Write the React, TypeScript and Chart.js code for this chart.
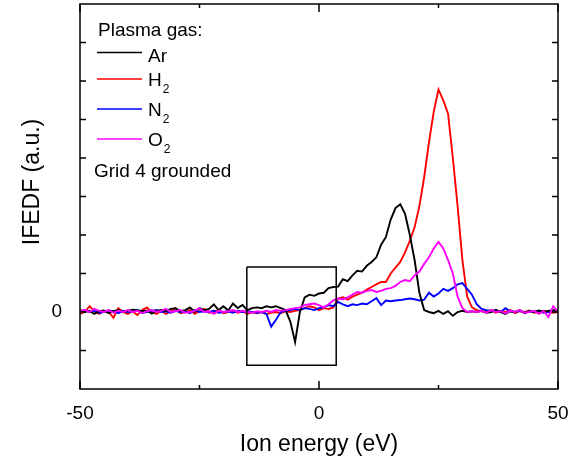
import React, { useEffect, useRef } from 'react';
import { Chart, registerables } from 'chart.js';

Chart.register(...registerables);

const FONT = '"Liberation Sans", Arial, Helvetica, sans-serif';

// Ion energy (eV)
const energy = [
  -50, -49, -48, -47, -46, -45, -44, -43, -42, -41,
  -40, -39, -38, -37, -36, -35, -34, -33, -32, -31,
  -30, -29, -28, -27, -26, -25, -24, -23, -22, -21,
  -20, -19, -18, -17, -16, -15, -14, -13, -12, -11,
  -10, -9, -8, -7, -6, -5, -4, -3, -2, -1,
  0, 1, 2, 3, 4, 5, 6, 7, 8, 9,
  10, 11, 12, 13, 14, 15, 16, 17, 18, 19,
  20, 21, 22, 23, 24, 25, 26, 27, 28, 29,
  30, 31, 32, 33, 34, 35, 36, 37, 38, 39,
  40, 41, 42, 43, 44, 45, 46, 47, 48, 49, 50,
];

const ar = [
  0.05, 0.00, 0.03, -0.05, 0.02, 0.04, -0.03, 0.02, 0.05, 0.00,
  0.03, 0.06, 0.05, 0.02, 0.04, -0.04, 0.03, 0.05, 0.02, 0.08,
  0.10, 0.02, 0.05, 0.12, 0.00, 0.10, 0.05, 0.08, 0.20, 0.05,
  0.15, 0.04, 0.22, 0.10, 0.18, 0.05, 0.10, 0.12, 0.10, 0.15,
  0.12, 0.15, 0.10, 0.05, -0.25, -0.78, 0.00, 0.38, 0.45, 0.42,
  0.48, 0.50, 0.62, 0.65, 0.66, 0.85, 0.80, 0.95, 1.07, 1.05,
  1.20, 1.30, 1.42, 1.75, 1.95, 2.40, 2.70, 2.80, 2.55, 2.00,
  1.35, 0.50, 0.05, 0.00, -0.03, 0.03, -0.05, 0.02, -0.10, 0.00,
  0.03, 0.00, 0.02, 0.00, 0.03, -0.02, 0.00, 0.05, 0.00, -0.05,
  0.02, 0.00, 0.05, -0.03, 0.02, 0.00, 0.04, 0.00, 0.03, 0.05, 0.00,
];

const h2 = [
  -0.05, 0.00, 0.15, 0.02, -0.05, 0.03, 0.00, -0.15, 0.10, 0.00,
  -0.05, 0.02, -0.08, 0.05, 0.12, 0.00, -0.05, 0.03, -0.05, 0.02,
  0.10, -0.03, 0.00, 0.05, -0.05, 0.02, 0.08, -0.02, 0.00, 0.05,
  -0.03, 0.00, 0.03, -0.02, 0.02, -0.05, 0.00, -0.03, 0.00, -0.05,
  -0.02, 0.00, -0.03, 0.02, 0.00, 0.03, 0.05, 0.10, 0.15, 0.12,
  0.05, 0.10, 0.08, 0.12, 0.35, 0.38, 0.32, 0.40, 0.45, 0.50,
  0.58, 0.65, 0.72, 0.78, 0.78, 1.00, 1.15, 1.30, 1.55, 1.85,
  2.20, 2.75, 3.50, 4.40, 5.20, 5.78, 5.50, 5.15, 4.00, 2.75,
  1.35, 0.40, 0.12, 0.05, 0.02, 0.00, 0.05, -0.02, 0.03, 0.00,
  0.05, -0.03, 0.02, 0.00, 0.04, -0.02, 0.00, 0.03, 0.00, -0.02, 0.00,
];

const n2 = [
  0.02, 0.05, 0.00, 0.03, -0.02, 0.00, 0.04, 0.02, -0.03, 0.03,
  0.00, 0.02, 0.05, -0.02, 0.00, 0.03, 0.05, 0.00, 0.02, -0.02,
  0.03, 0.00, 0.02, -0.03, 0.05, 0.00, 0.02, 0.00, 0.03, -0.02,
  0.00, 0.02, -0.02, 0.03, 0.00, 0.02, 0.00, -0.02, 0.00, -0.05,
  -0.38, -0.20, 0.00, 0.03, 0.05, 0.08, 0.05, 0.10, 0.08, 0.05,
  0.10, 0.12, 0.18, 0.15, 0.26, 0.20, 0.15, 0.20, 0.18, 0.22,
  0.20, 0.28, 0.36, 0.18, 0.30, 0.28, 0.30, 0.31, 0.33, 0.35,
  0.33, 0.30, 0.32, 0.50, 0.40, 0.48, 0.60, 0.55, 0.62, 0.72,
  0.75, 0.60, 0.45, 0.20, 0.08, 0.05, 0.03, 0.05, 0.00, 0.10,
  0.02, 0.00, 0.03, -0.02, 0.02, 0.00, 0.03, -0.02, 0.00, 0.03, 0.05,
];

const o2 = [
  0.02, 0.05, 0.00, 0.08, 0.03, 0.00, 0.05, -0.02, 0.03, 0.00,
  0.05, 0.00, 0.03, -0.03, 0.02, 0.05, 0.00, 0.03, 0.08, 0.00,
  0.02, 0.05, -0.02, 0.00, 0.03, 0.10, 0.00, 0.02, -0.05, 0.03,
  0.00, 0.02, 0.05, 0.00, 0.03, 0.00, -0.02, 0.02, 0.00, 0.03,
  0.00, 0.05, 0.03, 0.05, 0.08, 0.10, 0.12, 0.18, 0.20, 0.22,
  0.18, 0.12, 0.20, 0.30, 0.35, 0.33, 0.38, 0.45, 0.52, 0.50,
  0.55, 0.57, 0.52, 0.55, 0.60, 0.62, 0.68, 0.78, 0.83, 0.80,
  0.95, 1.05, 1.25, 1.42, 1.65, 1.82, 1.65, 1.35, 1.00, 0.40,
  0.10, 0.00, 0.02, 0.00, 0.03, -0.02, 0.05, 0.00, 0.02, -0.03,
  0.03, 0.00, 0.05, -0.02, 0.00, 0.03, -0.05, 0.02, -0.13, 0.15, 0.00,
];

// Highlight box (data coordinates)
const boxX = [-15.1, 3.6, 3.6, -15.1, -15.1];
const boxY = [1.17, 1.17, -1.38, -1.38, 1.17];

// Axis ticks
const xMajorTicks = [-50, 0, 50];
const xMinorTicks = [-25, 25];
const yTicks = [-1, 0, 1, 2, 3, 4, 5, 6, 7];

const yTitle = 'IFEDF (a.u.)';
const xTitle = 'Ion energy (eV)';
const legendTitle = 'Plasma gas:';
const legendNames = ['Ar', 'H', 'N', 'O'];
const legendSubs = ['', '2', '2', '2'];
const legendColors = ['#000000', '#ff0000', '#0000ff', '#ff00ff'];
const legendNote = 'Grid 4 grounded';

const toPoints = (xs: number[], ys: number[]) => xs.map((x, i) => ({ x, y: ys[i] }));

const decorPlugin = {
  id: 'decor',
  afterDraw(chart: any) {
    const { ctx, chartArea, scales } = chart;
    const { left, right, top, bottom } = chartArea;
    const xs = scales.x;
    const ys = scales.y;
    ctx.save();
    ctx.strokeStyle = '#000';
    ctx.lineWidth = 1.5;
    ctx.strokeRect(left, top, right - left, bottom - top);
    ctx.beginPath();
    xMajorTicks.forEach((v) => {
      const px = xs.getPixelForValue(v);
      ctx.moveTo(px, bottom); ctx.lineTo(px, bottom - 8);
      ctx.moveTo(px, top); ctx.lineTo(px, top + 8);
    });
    xMinorTicks.forEach((v) => {
      const px = xs.getPixelForValue(v);
      ctx.moveTo(px, bottom); ctx.lineTo(px, bottom - 4);
      ctx.moveTo(px, top); ctx.lineTo(px, top + 4);
    });
    yTicks.forEach((v) => {
      const py = ys.getPixelForValue(v);
      ctx.moveTo(left, py); ctx.lineTo(left + 6, py);
      ctx.moveTo(right, py); ctx.lineTo(right - 6, py);
    });
    ctx.stroke();

    // y-axis title
    ctx.fillStyle = '#000';
    ctx.save();
    ctx.translate(33, 182);
    ctx.rotate(-Math.PI / 2);
    ctx.font = `23px ${FONT}`;
    ctx.textAlign = 'center';
    ctx.textBaseline = 'middle';
    ctx.fillText(yTitle, 0, 0);
    ctx.restore();

    // legend
    ctx.textBaseline = 'alphabetic';
    ctx.textAlign = 'left';
    ctx.font = `19px ${FONT}`;
    ctx.fillText(legendTitle, 98, 36);
    const lineYs = [52.5, 79, 109, 139];
    const textYs = [62, 86, 116, 146];
    legendNames.forEach((name, i) => {
      ctx.strokeStyle = legendColors[i];
      ctx.lineWidth = 1.6;
      ctx.beginPath();
      ctx.moveTo(97, lineYs[i]);
      ctx.lineTo(142, lineYs[i]);
      ctx.stroke();
      ctx.font = `19px ${FONT}`;
      ctx.fillText(name, 148, textYs[i]);
      if (legendSubs[i]) {
        const w = ctx.measureText(name).width;
        ctx.font = `12px ${FONT}`;
        ctx.fillText(legendSubs[i], 148 + w + 1, textYs[i] + 7);
      }
    });
    ctx.font = `19px ${FONT}`;
    ctx.fillText(legendNote, 94, 177);
    ctx.restore();
  },
};

export default function App() {
  const canvasRef = useRef<HTMLCanvasElement | null>(null);

  useEffect(() => {
    if (!canvasRef.current) return;
    Chart.defaults.font.family = FONT;
    const line = (label: string, ys: number[], color: string, order: number) => ({
      label,
      data: toPoints(energy, ys),
      borderColor: color,
      backgroundColor: color,
      borderWidth: 1.9,
      pointRadius: 0,
      tension: 0,
      fill: false,
      order,
    });
    const chart = new Chart(canvasRef.current, {
      type: 'line',
      data: {
        datasets: [
          line('Ar', ar, '#000000', 2),
          line('H2', h2, '#ff0000', 4),
          line('N2', n2, '#0000ff', 3),
          line('O2', o2, '#ff00ff', 1),
          {
            label: 'box',
            data: toPoints(boxX, boxY),
            borderColor: '#000',
            borderWidth: 1.5,
            pointRadius: 0,
            tension: 0,
            fill: false,
            order: 0,
          },
        ],
      },
      options: {
        animation: false,
        responsive: false,
        maintainAspectRatio: false,
        layout: { padding: { top: 4, right: 13, left: 0, bottom: 0 } },
        plugins: {
          legend: { display: false },
          tooltip: { enabled: false },
        },
        scales: {
          x: {
            type: 'linear',
            min: -50,
            max: 50,
            grid: { display: false },
            border: { display: false },
            ticks: {
              stepSize: 50,
              color: '#000',
              font: { size: 19, family: FONT },
              padding: 5,
              maxRotation: 0,
              autoSkip: false,
            },
            title: {
              display: true,
              text: xTitle,
              color: '#000',
              font: { size: 23, family: FONT },
              padding: { top: 0, bottom: 2 },
            },
            afterFit: (s: any) => {
              s.height = 71;
              s.paddingLeft = 0;
              s.paddingRight = 0;
            },
          },
          y: {
            type: 'linear',
            min: -2,
            max: 8,
            grid: { display: false },
            border: { display: false },
            ticks: {
              stepSize: 1,
              color: '#000',
              font: { size: 19, family: FONT },
              padding: 10,
              callback: (v: any) => (Number(v) === 0 ? '0' : ''),
            },
            title: { display: false },
            afterFit: (s: any) => {
              s.width = 80;
              s.paddingTop = 0;
              s.paddingBottom = 0;
            },
          },
        },
      },
      plugins: [decorPlugin],
    } as any);
    return () => chart.destroy();
  }, []);

  return (
    <div style={{ position: 'fixed', left: 0, top: 0, width: 571, height: 460, background: '#fff' }}>
      <canvas ref={canvasRef} width={571} height={460} style={{ display: 'block', width: 571, height: 460 }} />
    </div>
  );
}
